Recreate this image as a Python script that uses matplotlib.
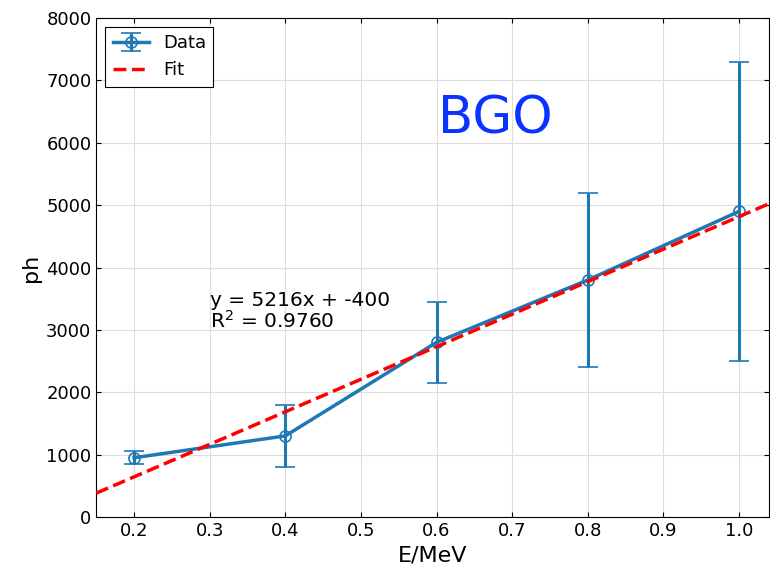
import matplotlib
matplotlib.use("Agg")
import matplotlib.pyplot as plt
import numpy as np

# energy (MeV), photon yield and its uncertainty
E = [0.2, 0.4, 0.6, 0.8, 1.0]
ph = [950, 1300, 2800, 3800, 4900]
ph_err = [100, 500, 650, 1400, 2400]

# linear fit
k = 5216
b = -400
r2 = 0.9760

fig = plt.figure(figsize=(7.7, 5.65), dpi=100)
ax = fig.add_axes([0.125, 0.085, 0.874, 0.883])

h_data = ax.errorbar(E, ph, yerr=ph_err, fmt='-o', color='#1f77b4', lw=2.5,
                     mfc='none', ms=8, mew=1.2, capsize=7, capthick=2.2,
                     elinewidth=2.2, label='Data', zorder=3)
xf = np.linspace(0.15, 1.04, 100)
h_fit, = ax.plot(xf, k * xf + b, 'r--', lw=2.5, label='Fit', zorder=4)

ax.set_xlim(0.15, 1.04)
ax.set_ylim(0, 8000)
ax.set_xticks([0.2, 0.3, 0.4, 0.5, 0.6, 0.7, 0.8, 0.9, 1.0])
ax.set_yticks(range(0, 8001, 1000))
ax.tick_params(direction='in', labelsize=13, top=True, right=True)
ax.grid(True, color='#dddddd', lw=0.8)
ax.set_axisbelow(True)

ax.set_xlabel('E/MeV', fontsize=16)
ax.set_ylabel('ph', fontsize=16)

ax.text(0.3, 3030, f'y = {k}x + {b}\nR$^2$ = {r2:.4f}', fontsize=14.5,
        linespacing=1.0)
ax.text(0.602, 6150, 'BGO', fontsize=37, color='#0a33ff')

leg = ax.legend([h_data, h_fit], ['Data', 'Fit'], loc='upper left',
                fontsize=13, fancybox=False, edgecolor='black',
                framealpha=1, handlelength=2.0)
leg.get_frame().set_linewidth(0.8)

fig.savefig('out.png', dpi=100)
